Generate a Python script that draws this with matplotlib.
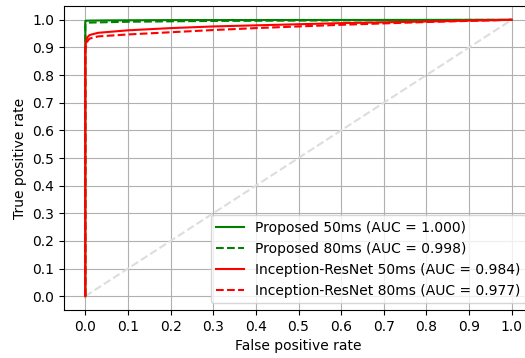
import matplotlib
matplotlib.use("Agg")
import matplotlib.pyplot as plt
import numpy as np

# ROC data
prop50_fpr = [0.0, 0.0, 0.002, 0.05, 0.2, 1.0]
prop50_tpr = [0.0, 0.996, 0.997, 0.998, 0.999, 1.0]

prop80_fpr = [0.0, 0.0, 0.01, 0.1, 0.3, 0.6, 1.0]
prop80_tpr = [0.0, 0.985, 0.99, 0.993, 0.996, 0.998, 1.0]

inc50_fpr = [0.0, 0.0, 0.002, 0.005, 0.01, 0.03, 0.1, 0.2, 0.3, 0.4, 0.5, 0.6, 0.7, 0.8, 0.9, 1.0]
inc50_tpr = [0.0, 0.90, 0.925, 0.937, 0.945, 0.953, 0.962, 0.970, 0.976, 0.980, 0.984, 0.988, 0.991, 0.994, 0.997, 1.0]

inc80_fpr = [0.0, 0.0, 0.003, 0.006, 0.01, 0.03, 0.1, 0.2, 0.3, 0.4, 0.5, 0.6, 0.7, 0.8, 0.9, 1.0]
inc80_tpr = [0.0, 0.89, 0.915, 0.925, 0.932, 0.940, 0.947, 0.955, 0.963, 0.970, 0.976, 0.982, 0.987, 0.992, 0.996, 1.0]

labels = ["Proposed 50ms (AUC = 1.000)", "Proposed 80ms (AUC = 0.998)",
          "Inception-ResNet 50ms (AUC = 0.984)", "Inception-ResNet 80ms (AUC = 0.977)"]

fig = plt.figure(figsize=(5.25, 3.58), dpi=100)
ax = fig.add_axes([64/525, 48/358, (533-64)/525, (310-6)/358])

ax.plot([0, 1], [0, 1], linestyle="--", color="#dddddd", linewidth=1.5)
ax.plot(prop50_fpr, prop50_tpr, color="green", linestyle="-", linewidth=1.5, label=labels[0])
ax.plot(prop80_fpr, prop80_tpr, color="green", linestyle="--", linewidth=1.5, label=labels[1])
ax.plot(inc50_fpr, inc50_tpr, color="red", linestyle="-", linewidth=1.5, label=labels[2])
ax.plot(inc80_fpr, inc80_tpr, color="red", linestyle="--", linewidth=1.5, label=labels[3])

ax.set_xlim(-0.05, 1.05)
ax.set_ylim(-0.05, 1.05)
ax.set_xticks(np.arange(0, 1.01, 0.1))
ax.set_yticks(np.arange(0, 1.01, 0.1))
ax.set_xticklabels([f"{v:.1f}" for v in np.arange(0, 1.01, 0.1)])
ax.set_yticklabels([f"{v:.1f}" for v in np.arange(0, 1.01, 0.1)])
ax.grid(True, color="#b0b0b0", linewidth=0.8)
ax.set_xlabel("False positive rate")
ax.set_ylabel("True positive rate")
ax.legend(loc="lower right")

fig.savefig("out.png", dpi=100)
